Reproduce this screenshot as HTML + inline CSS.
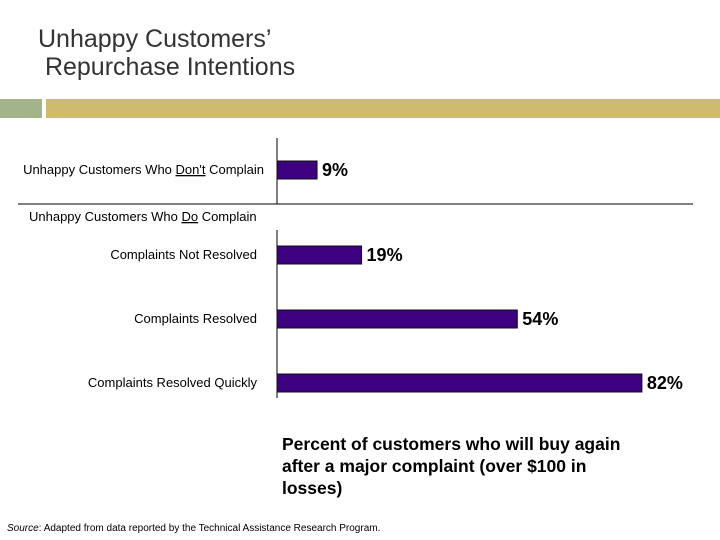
<!DOCTYPE html>
<html><head><meta charset="utf-8"><style>
body{margin:0;width:720px;height:540px;background:#fff;position:relative;overflow:hidden;font-family:"Liberation Sans",sans-serif}
.t{position:absolute;white-space:nowrap}
</style></head><body>
<div class="t" style="left:38px;top:25px;font-size:25px;color:#333;line-height:28px">Unhappy Customers’<br>&nbsp;Repurchase Intentions</div>
<div style="position:absolute;left:0;top:99px;width:42px;height:19px;background:#a3b48a"></div>
<div style="position:absolute;left:46px;top:99px;width:674px;height:19px;background:#cfbb6c"></div>
<svg id="c" width="720" height="540" style="position:absolute;left:0;top:0"></svg>
<div class="t" style="left:282px;top:433px;font-size:17.5px;font-weight:bold;line-height:22px">Percent of customers who will buy again<br>after a major complaint (over $100 in<br>losses)</div>
<div class="t" style="left:7px;top:523px;font-size:10px"><i>Source</i>: Adapted from data reported by the Technical Assistance Research Program.</div>
<script>
const categories=["Unhappy Customers Who Don't Complain","Complaints Not Resolved","Complaints Resolved","Complaints Resolved Quickly"];
const values=[9,19,54,82];
const labels=["9%","19%","54%","82%"];
const svg=document.getElementById('c');const NS='http://www.w3.org/2000/svg';
const x0=277,pxPer=4.45;
const xs=v=>x0+v*pxPer;
const rowY=[161,246,310,374];const bh=18;
function mk(t,a){const e=document.createElementNS(NS,t);for(const k in a)e.setAttribute(k,a[k]);svg.appendChild(e);return e;}
let l=mk('line',{x1:x0,y1:138,x2:x0,y2:204,stroke:'#000','stroke-width':1});


l=mk('line',{x1:18,y1:204,x2:693,y2:204,stroke:'#000','stroke-width':1});


l=mk('line',{x1:x0,y1:230,x2:x0,y2:398,stroke:'#000','stroke-width':1});


const sub=mk('text',{x:29,y:221,'font-size':13,'font-family':'Liberation Sans, sans-serif'});
sub.innerHTML='Unhappy Customers Who <tspan text-decoration="underline">Do</tspan> Complain';


values.forEach((v,i)=>{
 const y=rowY[i];
 const r=mk('rect',{x:x0,y:y,width:xs(v)-x0,height:bh,fill:'#3d0080',stroke:'#111','stroke-width':1});
 
 
 const t=mk('text',{x:xs(v)+5,y:y+15,'font-size':18,'font-weight':'bold','font-family':'Liberation Sans, sans-serif'});
 t.textContent=labels[i];
 
 
 const c=mk('text',{x:i==0?264:257,y:y+13,'font-size':13,'text-anchor':'end','font-family':'Liberation Sans, sans-serif'});
 if(i==0)c.innerHTML='Unhappy Customers Who <tspan text-decoration="underline">Don\'t</tspan> Complain';else c.textContent=categories[i];
 
 
});
</script>
</body></html>
